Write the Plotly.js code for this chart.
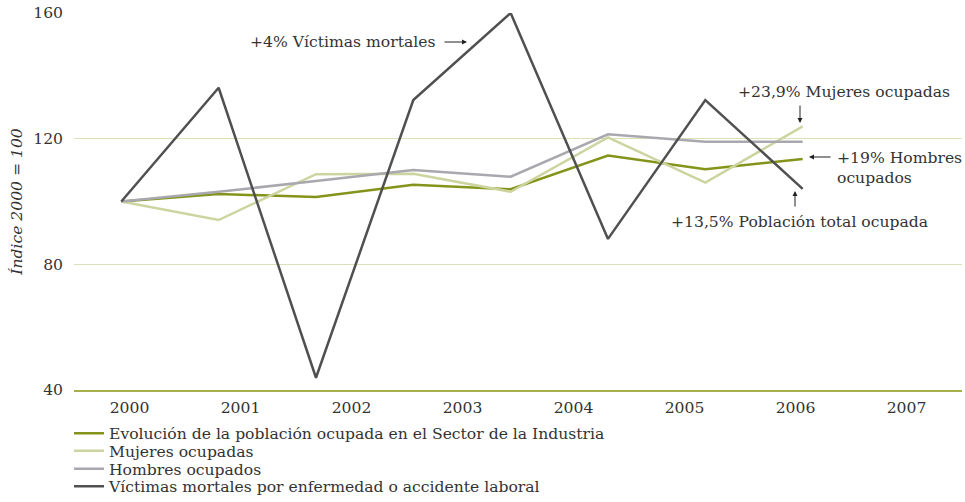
<!DOCTYPE html>
<html>
<head>
<meta charset="utf-8">
<script src="https://cdn.plot.ly/plotly-3.0.1.min.js"></script>
<style>html,body{margin:0;padding:0;background:#fff;}#chart{width:965px;height:502px;}</style>
</head>
<body>
<div id="chart"></div>
<script>
// ---- data ----
const years = [2000, 2001, 2002, 2003, 2004, 2005, 2006, 2007];
const yearLabels = ['2000', '2001', '2002', '2003', '2004', '2005', '2006', '2007'];
const evolucion = [100, 102.4, 101.4, 105.3, 103.9, 114.6, 110.3, 113.5];
const mujeres = [100, 94.1, 108.7, 108.8, 103.1, 120.4, 106.0, 123.9];
const hombres = [100, 103.1, 106.5, 110.0, 107.9, 121.4, 119.0, 119.0];
const victimas = [100, 136.2, 43.9, 132.3, 160, 88.1, 132.3, 104];
const seriesNames = [
  'Evolución de la población ocupada en el Sector de la Industria',
  'Mujeres ocupadas',
  'Hombres ocupados',
  'Víctimas mortales por enfermedad o accidente laboral'
];
const yTicks = [40, 80, 120, 160];

// ---- styling ----
const FONT = 'DejaVu Serif';
const FS = 15.6;
const TXT = '#333333';
const colors = ['#84941a', '#cdd4a0', '#a8a8ae', '#505050'];
const seriesData = [evolucion, mujeres, hombres, victimas];
const legendIds = ['legend', 'legend2', 'legend3', 'legend4'];

const M = {l: 74, r: 3, t: 13, b: 112, autoexpand: false};
const W = 965, H = 502;
const PW = W - M.l - M.r, PH = H - M.t - M.b;
const px = v => (v - M.l) / PW;
const py = v => (H - M.b - v) / PH;

const traces = seriesData.map((d, i) => ({
  type: 'scatter', mode: 'lines', x: years, y: d, name: seriesNames[i],
  xaxis: 'x', yaxis: 'y', legend: legendIds[i],
  line: {color: colors[i], width: 2.5}, hoverinfo: 'skip'
}));
// empty helper trace so the year-label axis (x2) is drawn
traces.push({type: 'scatter', mode: 'lines', x: years, y: years.map(() => null),
  xaxis: 'x2', yaxis: 'y', showlegend: false, hoverinfo: 'skip'});

const legendRowsY = [435, 452.7, 470.7, 488];
const layout = {
  width: W, height: H, margin: M,
  paper_bgcolor: '#fff', plot_bgcolor: '#fff',
  font: {family: FONT, size: FS, color: TXT},
  showlegend: true,
  xaxis: {range: [1999.514, 2008.637], visible: false, fixedrange: true},
  xaxis2: {
    overlaying: 'x', anchor: 'y', side: 'bottom',
    range: [1999.5, 2007.5], tickvals: years, ticktext: yearLabels,
    showgrid: false, zeroline: false, showline: true,
    linecolor: '#a7af4c', linewidth: 2, ticks: '',
    ticklabelstandoff: 2, tickfont: {family: FONT, size: FS, color: TXT}
  },
  yaxis: {
    range: [40, 160], tickvals: yTicks, ticktext: yTicks.map(String),
    showgrid: true, gridcolor: '#dbe0b8', gridwidth: 1.5,
    zeroline: false, showline: false, ticks: '',
    ticklabelstandoff: 10, tickfont: {family: FONT, size: FS, color: TXT},
    title: {text: '<i>Índice 2000 = 100</i>', standoff: 6, font: {family: FONT, size: FS, color: TXT}}
  },
  annotations: [
    {xref: 'paper', yref: 'paper', x: px(437), y: py(42), xanchor: 'right', yanchor: 'middle',
     text: '+4% Víctimas mortales', showarrow: false},
    {xref: 'paper', yref: 'paper', x: px(736), y: py(92), xanchor: 'left', yanchor: 'middle',
     text: '+23,9% Mujeres ocupadas', showarrow: false},
    {xref: 'paper', yref: 'paper', x: px(835), y: py(168), xanchor: 'left', yanchor: 'middle', align: 'left',
     text: '+19% Hombres<br>ocupados', showarrow: false},
    {xref: 'paper', yref: 'paper', x: px(669), y: py(222), xanchor: 'left', yanchor: 'middle',
     text: '+13,5% Población total ocupada', showarrow: false},
    // arrows
    {xref: 'paper', yref: 'paper', x: px(467), y: py(42), ax: -24, ay: 0, text: '', showarrow: true,
     arrowhead: 2, arrowsize: 1, arrowwidth: 1, arrowcolor: '#222'},
    {xref: 'paper', yref: 'paper', x: px(800), y: py(123), ax: 0, ay: -19, text: '', showarrow: true,
     arrowhead: 2, arrowsize: 1, arrowwidth: 1, arrowcolor: '#222'},
    {xref: 'paper', yref: 'paper', x: px(809), y: py(157), ax: 23, ay: 0, text: '', showarrow: true,
     arrowhead: 2, arrowsize: 1, arrowwidth: 1, arrowcolor: '#222'},
    {xref: 'paper', yref: 'paper', x: px(795), y: py(191), ax: 0, ay: 17, text: '', showarrow: true,
     arrowhead: 2, arrowsize: 1, arrowwidth: 1, arrowcolor: '#222'}
  ]
};
legendIds.forEach((id, i) => {
  layout[id] = {
    x: px(69), xref: 'paper', xanchor: 'left',
    y: py(legendRowsY[i] - 1.5), yref: 'paper', yanchor: 'middle',
    bgcolor: 'rgba(0,0,0,0)', borderwidth: 0,
    font: {family: FONT, size: FS, color: TXT}
  };
});

Plotly.newPlot('chart', traces, layout, {displayModeBar: false, staticPlot: true});
</script>
</body>
</html>
